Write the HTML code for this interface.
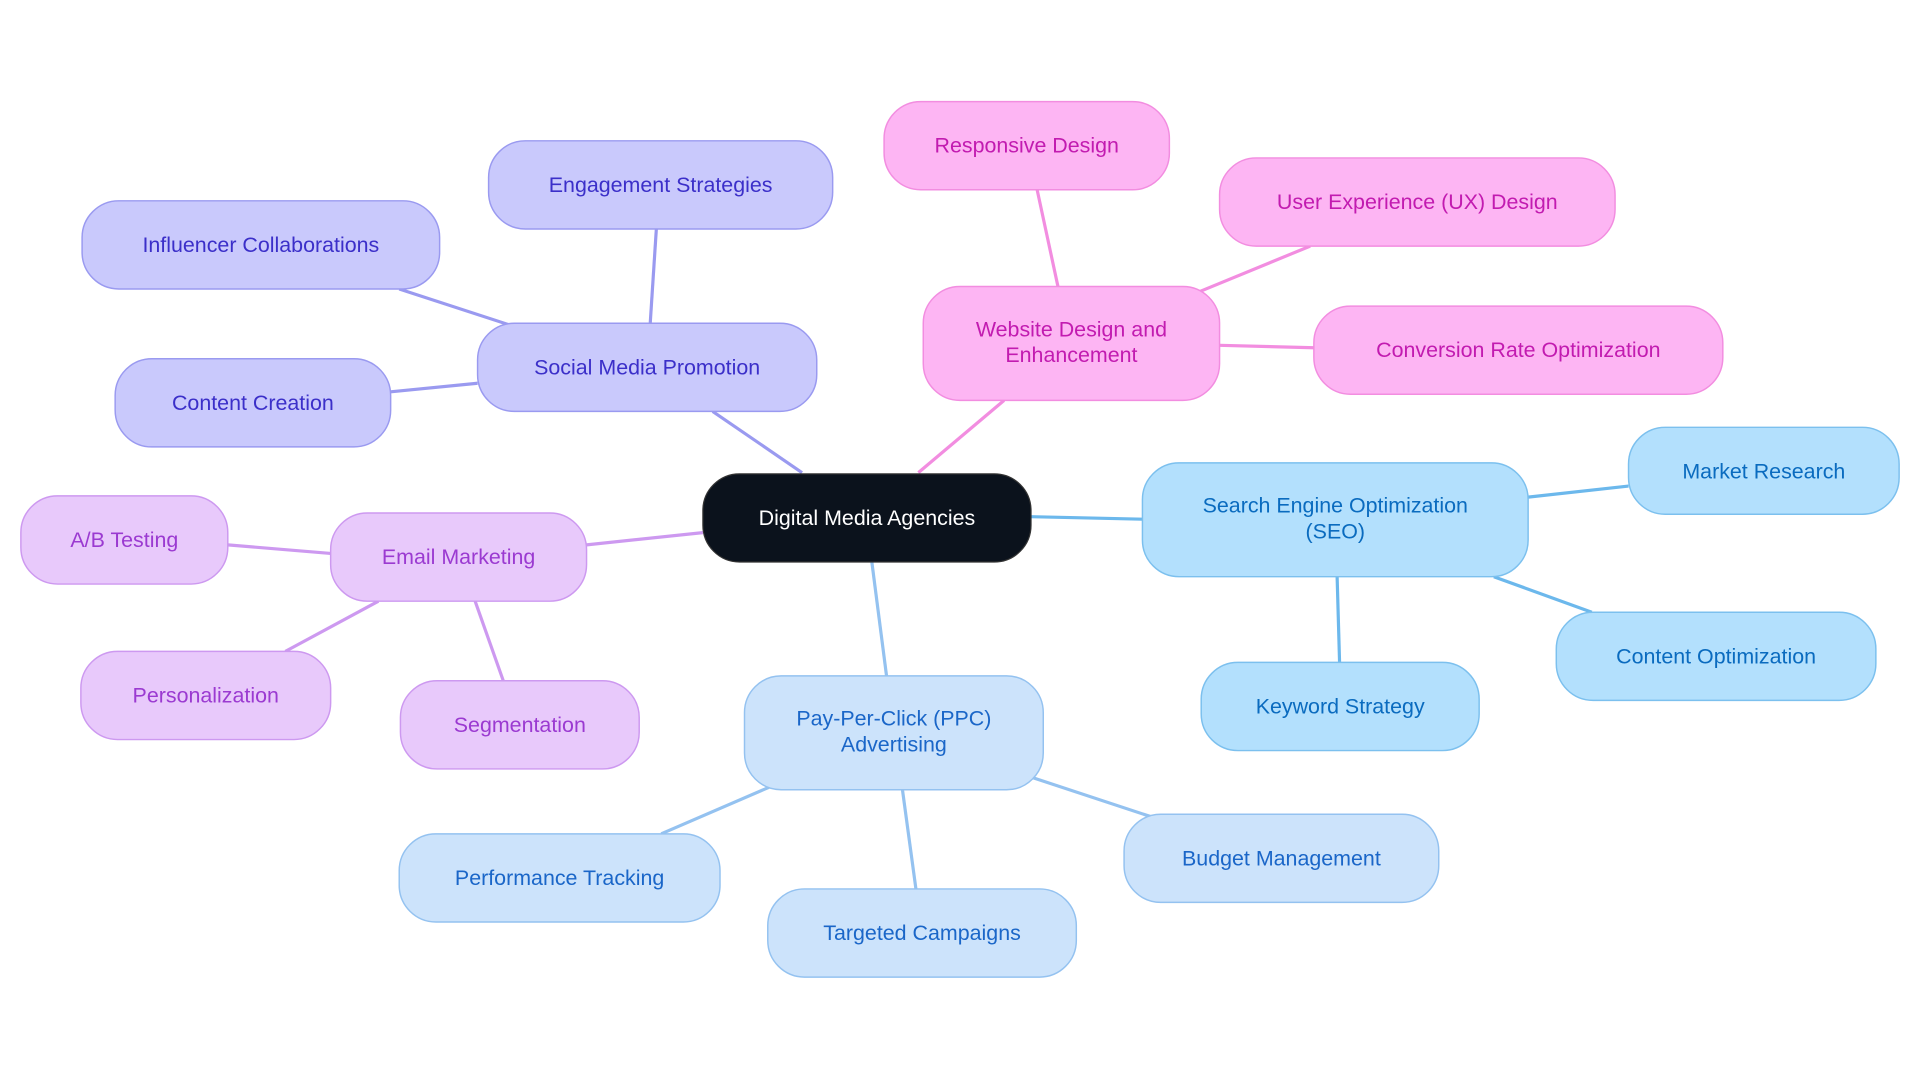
<!DOCTYPE html>
<html><head><meta charset="utf-8"><style>html,body{margin:0;padding:0;background:#fff}svg{display:block}text{font-family:"Liberation Sans",sans-serif;font-size:17.5px;text-anchor:middle;dominant-baseline:central}</style></head><body>
<svg width="1920" height="1083" viewBox="0 0 1568 884.5" xmlns="http://www.w3.org/2000/svg">
<g stroke-width="2.6" fill="none">
<g stroke="#9a9af0"><line x1="655" y1="386" x2="582" y2="336"/><line x1="531" y1="264" x2="536" y2="187"/><line x1="418" y1="266" x2="326" y2="236"/><line x1="390" y1="313" x2="319" y2="320"/></g>
<g stroke="#f28de0"><line x1="750" y1="386" x2="820" y2="327"/><line x1="864" y1="234" x2="847" y2="155"/><line x1="980" y1="238" x2="1070" y2="201"/><line x1="996" y1="282" x2="1073" y2="284"/></g>
<g stroke="#6cb8ec"><line x1="842" y1="422" x2="933" y2="424"/><line x1="1248" y1="406" x2="1330" y2="397"/><line x1="1220" y1="471" x2="1300" y2="500"/><line x1="1092" y1="471" x2="1094" y2="541"/></g>
<g stroke="#94c2f0"><line x1="712" y1="459" x2="724" y2="552"/><line x1="628" y1="643" x2="540" y2="681"/><line x1="737" y1="645" x2="748" y2="726"/><line x1="843" y1="635" x2="940" y2="667"/></g>
<g stroke="#cd99f0"><line x1="574" y1="435" x2="479" y2="445"/><line x1="270" y1="452" x2="186" y2="445"/><line x1="309" y1="491" x2="233" y2="532"/><line x1="388" y1="491" x2="411" y2="556"/></g>
</g>
<rect x="574" y="387" width="268" height="72" rx="30" fill="#0b121c" stroke="#333"/>
<text x="708" y="423" fill="#fff">Digital Media Agencies</text>
<g fill="#c9c9fc" stroke="#9a9af0" stroke-width="1.2">
<rect x="390" y="264" width="277" height="72" rx="30"/><rect x="399" y="115" width="281" height="72" rx="30"/><rect x="67" y="164" width="292" height="72" rx="30"/><rect x="94" y="293" width="225" height="72" rx="30"/></g>
<g fill="#3b2fc9"><text x="528.5" y="300">Social Media Promotion</text><text x="539.5" y="151">Engagement Strategies</text><text x="213" y="200">Influencer Collaborations</text><text x="206.5" y="329">Content Creation</text></g>
<g fill="#fdb5f3" stroke="#f28de0" stroke-width="1.2">
<rect x="754" y="234" width="242" height="93" rx="30"/><rect x="722" y="83" width="233" height="72" rx="30"/><rect x="996" y="129" width="323" height="72" rx="30"/><rect x="1073" y="250" width="334" height="72" rx="30"/></g>
<g fill="#c21bb0"><text x="875" y="269">Website Design and</text><text x="875" y="290">Enhancement</text><text x="838.5" y="119">Responsive Design</text><text x="1157.5" y="165">User Experience (UX) Design</text><text x="1240" y="286">Conversion Rate Optimization</text></g>
<g fill="#b3e0fd" stroke="#7cc0ee" stroke-width="1.2">
<rect x="933" y="378" width="315" height="93" rx="30"/><rect x="1330" y="349" width="221" height="71" rx="30"/><rect x="1271" y="500" width="261" height="72" rx="30"/><rect x="981" y="541" width="227" height="72" rx="30"/></g>
<g fill="#0a6bbf"><text x="1090.5" y="413">Search Engine Optimization</text><text x="1090.5" y="434">(SEO)</text><text x="1440.5" y="385">Market Research</text><text x="1401.5" y="536">Content Optimization</text><text x="1094.5" y="577">Keyword Strategy</text></g>
<g fill="#cce3fb" stroke="#94c2f0" stroke-width="1.2">
<rect x="608" y="552" width="244" height="93" rx="30"/><rect x="326" y="681" width="262" height="72" rx="30"/><rect x="627" y="726" width="252" height="72" rx="30"/><rect x="918" y="665" width="257" height="72" rx="30"/></g>
<g fill="#1a66c8"><text x="730" y="587">Pay-Per-Click (PPC)</text><text x="730" y="608">Advertising</text><text x="457" y="717">Performance Tracking</text><text x="753" y="762">Targeted Campaigns</text><text x="1046.5" y="701">Budget Management</text></g>
<g fill="#e8c9fb" stroke="#cd99f0" stroke-width="1.2">
<rect x="270" y="419" width="209" height="72" rx="30"/><rect x="17" y="405" width="169" height="72" rx="30"/><rect x="66" y="532" width="204" height="72" rx="30"/><rect x="327" y="556" width="195" height="72" rx="30"/></g>
<g fill="#9b3ad1"><text x="374.5" y="455">Email Marketing</text><text x="101.5" y="441">A/B Testing</text><text x="168" y="568">Personalization</text><text x="424.5" y="592">Segmentation</text></g>
</svg>
</body></html>
